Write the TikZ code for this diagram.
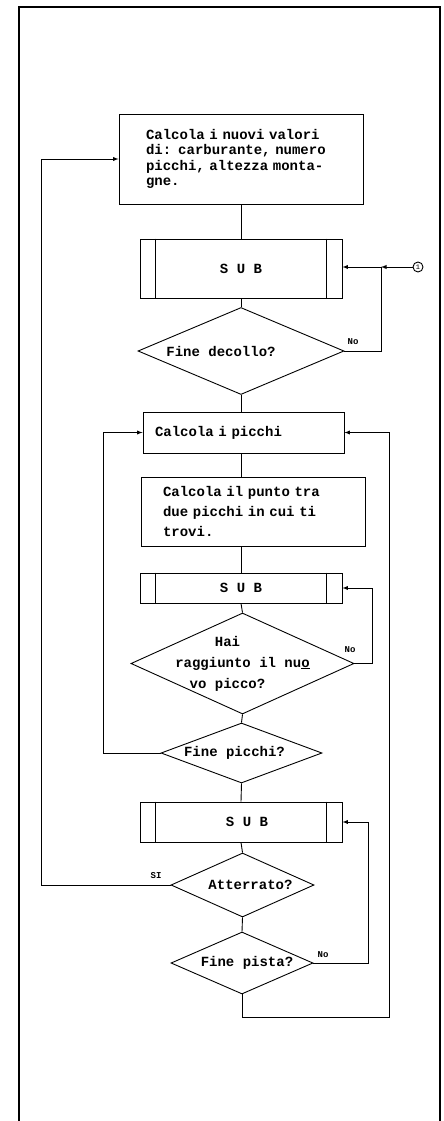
\documentclass[tikz,border=0pt]{standalone}
\usepackage{fontspec}
\setmonofont{Liberation Mono}
\usetikzlibrary{shapes.geometric}
\tikzset{
  box/.style={rectangle,draw,line width=0.9pt,align=left,font=\ttfamily\bfseries\fontsize{14}{15.5}\selectfont},
  subr/.style={rectangle,draw,line width=0.9pt,minimum width=202pt,font=\ttfamily\bfseries\fontsize{14}{15.5}\selectfont},
  decision/.style={diamond,draw,line width=0.9pt,inner sep=-40pt,align=center,font=\ttfamily\bfseries\fontsize{14}{15.5}\selectfont},
  lbl/.style={inner sep=0pt,font=\ttfamily\bfseries\fontsize{9}{9}\selectfont},
}

\begin{document}
\begin{tikzpicture}[x=1pt,y=-1pt,line width=0.9pt]
      \useasboundingbox (0,0) rectangle (444,1121);
      \draw[line width=1.6pt] (19,1125) -- (19,7) -- (440,7) -- (440,1125);

      \node[box,text width=190pt,inner xsep=27pt,minimum height=90pt] (nuovi) at (241,159)
        {Calcola i nuovi valori di: carburante, numero picchi, altezza monta-\\gne.};
      \node[subr,minimum height=59pt] (sub1) at (241,268.5) {S U B};
      \node[decision,minimum width=206pt,minimum height=87pt] (decollo) at (241,351) {Fine decollo?\hspace*{40pt}};
      \node[box,text width=177pt,inner xsep=12pt,minimum height=41pt] (picchi) at (243.5,432.5) {Calcola i picchi};
      \node[box,text width=180pt,inner xsep=22pt,minimum height=69pt,font=\ttfamily\bfseries\fontsize{14}{20}\selectfont] (punto) at (253,511.5)
        {Calcola il punto tra due picchi in cui ti trovi.};
      \node[subr,minimum height=30pt] (sub2) at (241,588) {S U B};
      \node[decision,minimum width=223pt,minimum height=101pt,font=\ttfamily\bfseries\fontsize{14}{21}\selectfont] (nuovo) at (242.5,663.5)
        {Hai\hspace*{30pt}\\raggiunto il nu\underline{o}\\vo picco?\hspace*{30pt}};
      \node[decision,minimum width=161pt,minimum height=60pt] (finepicchi) at (241.5,753) {Fine picchi?\hspace*{14pt}};
      \node[subr,minimum height=40pt] (sub3) at (241,822) {\hspace*{12pt}S U B};
      \node[decision,minimum width=143pt,minimum height=64pt] (atterrato) at (242.5,885) {\hspace*{16pt}Atterrato?};
      \node[decision,minimum width=142pt,minimum height=62pt] (pista) at (242,963) {\hspace*{10pt}Fine pista?};

      \node[circle,draw,minimum size=10pt,inner sep=0pt,font=\ttfamily\fontsize{7}{7}\selectfont] (uno) at (418,267) {1};
      \coordinate (jn) at (381,267);
      \coordinate (lft) at (41,0);
      \coordinate (lp) at (103,0);
      \coordinate (rp) at (389,1017);

      \foreach \s in {sub1,sub2,sub3} {
        \draw ([xshift=16pt]\s.north west) -- ([xshift=16pt]\s.south west);
        \draw ([xshift=-16pt]\s.north east) -- ([xshift=-16pt]\s.south east);
      }

      % main flow
      \draw (sub1.north |- nuovi.south) -- (sub1.north);
      \draw (sub1.south) -- (decollo.north);
      \draw (decollo.south) -- (decollo.south |- picchi.north);
      \draw (decollo.south |- picchi.south) -- (sub2.north |- punto.north);
      \draw (sub2.north |- punto.south) -- (sub2.north);
      \draw (sub2.south) -- (nuovo.north);
      \draw (nuovo.south) -- (finepicchi.north);
      \draw (finepicchi.south) -- (sub3.north);
      \draw (sub3.south) -- (atterrato.north);
      \draw (atterrato.south) -- (pista.north);

      % loops
      \draw[->,>=latex] (uno) -- (jn);
      \draw[->,>=latex] (jn) -- (jn -| sub1.east);
      \draw (decollo.east) -- (decollo.east -| jn) -- (jn);
      \draw[->,>=latex] (nuovo.east) -- ++(18,0) |- (sub2.east);
      \draw[->,>=latex] (finepicchi.west) -- (finepicchi.west -| lp) |- (picchi.west);
      \draw[->,>=latex] (atterrato.west) -- (atterrato.west -| lft) |- (nuovi.west);
      \draw[->,>=latex] (pista.east) -- ++(55,0) |- (sub3.east);
      \draw[->,>=latex] (pista.south) |- (rp) |- (picchi.east);

      \node[lbl] (no1) at (353,342) {No};
      \node[lbl] (no2) at (350,650) {No};
      \node[lbl] (no3) at (323,955) {No};
      \node[lbl] (si) at (156,876) {SI};
    \end{tikzpicture}
\end{document}
